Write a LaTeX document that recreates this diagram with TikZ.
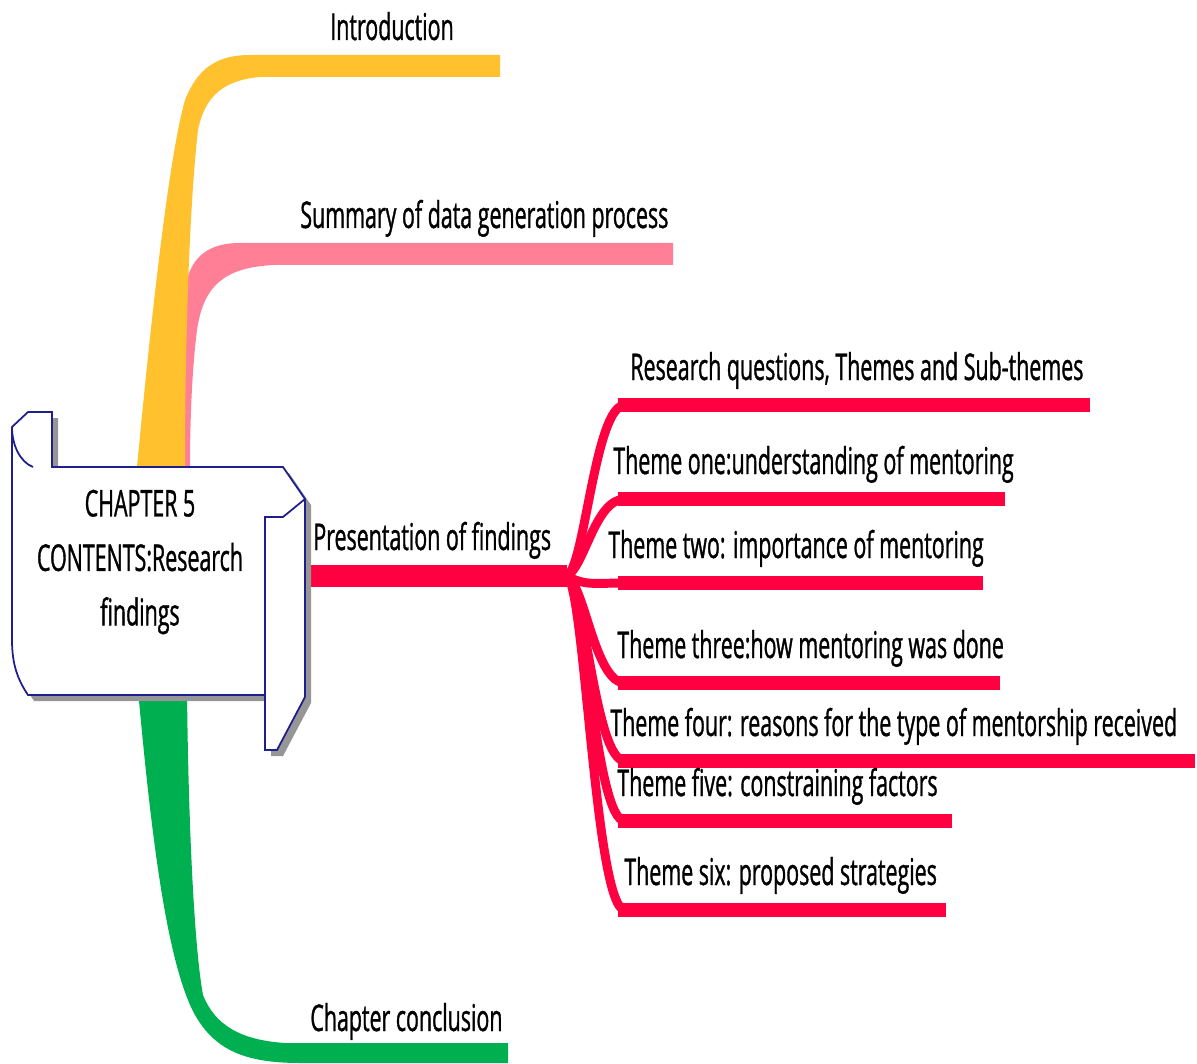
\documentclass[tikz,border=0pt]{standalone}
\usepackage{fontspec}
\newfontfamily\mapfont[FakeStretch=0.58,FakeBold=0.9]{Open Sans}
\definecolor{introyellow}{RGB}{255,193,46}
\definecolor{summpink}{RGB}{255,128,150}
\definecolor{findred}{RGB}{255,0,64}
\definecolor{conclgreen}{RGB}{0,176,80}
\definecolor{scrollnavy}{RGB}{30,30,140}
\definecolor{scrollshade}{RGB}{150,150,150}
\newcommand{\scrolloutline}{(28,412) -- (52,412) -- (52,467) -- (283,467) -- (305,499) -- (305,697) -- (277,750) -- (265,750) -- (265,695) -- (28,695) .. controls (18,680) and (12,665) .. (12,640) -- (12,427) -- cycle}

\begin{document}
\begin{tikzpicture}[x=0.02cm,y=-0.02cm,
  lbl/.style={anchor=base west,inner sep=0pt,font=\mapfont\fontsize{21}{25}\selectfont},
  twig/.style={draw=findred,line width=5.1pt,line cap=round},
  themebr/.style={draw=findred,line width=8.5pt,line cap=butt}]
\useasboundingbox (0,0) rectangle (1197,1064);
% main branches
\fill[summpink](183,467)--(184,300) .. controls (186,265) and (200,243) .. (240,243)--(673,243)--(673,265)--(275,265) .. controls (220,267) and (203,290) .. (197,330) .. controls (192,370) and (190,420) .. (190,467)--cycle;
\fill[introyellow](137,467) .. controls (150,330) and (168,160) .. (185,100) .. controls (197,70) and (215,55) .. (250,55)--(500,55)--(500,77)--(260,77) .. controls (225,80) and (205,95) .. (198,130) .. controls (190,200) and (185,330) .. (185,467)--cycle;
\fill[conclgreen](138,690) .. controls (150,820) and (165,960) .. (195,1015) .. controls (215,1050) and (245,1063) .. (300,1063)--(508,1063)--(508,1043)--(285,1043) .. controls (240,1040) and (215,1025) .. (203,995) .. controls (193,940) and (188,800) .. (187,690)--cycle;
\coordinate (trunk) at (290,576);
\coordinate (fork) at (567,576);
\draw[findred,line width=12.5pt](trunk)--(fork);
% themes
\foreach \n/\y/\e/\tx/\t in {rq/405/1090/630/{Research questions, Themes and Sub-themes},
  one/499/1005/613/{Theme one:understanding of mentoring},
  two/583/983/608/{Theme two: importance of mentoring},
  three/683/1000/617/{Theme three:how mentoring was done},
  four/761/1195/610/{Theme four: reasons for the type of mentorship received},
  five/821/952/617/{Theme five: constraining factors},
  six/910/946/624/{Theme six: proposed strategies}}{
  \pgfmathsetmacro\cy{576+10*sign(\y-576)}
  \draw[twig](fork) .. controls (585,\cy) and (595,\y) .. (625,\y);
  \draw[themebr](618,\y)--(\e,\y) coordinate (end-\n);
  \node[lbl] (\n) at (\tx,\y-25) {\t};
}
% scroll
\fill[scrollshade,shift={(6,6)}] \scrolloutline;
\filldraw[fill=white,draw=scrollnavy,line width=1pt] \scrolloutline;
\draw[scrollnavy,line width=1pt](12,427) .. controls (12,445) and (20,462) .. (33,467);
\draw[scrollnavy,line width=1pt](265,695)--(265,517)--(283,517)--(305,499);
\node[align=center,inner sep=0pt,font=\mapfont\fontsize{21}{31}\selectfont] (chap) at (140,562) {CHAPTER 5\\CONTENTS:Research\\findings};
% labels
\node[lbl] (intro) at (330,40) {Introduction};
\node[lbl] (summ) at (300,228) {Summary of data generation process};
\node[lbl] (pres) at (313,550) {Presentation of findings};
\node[lbl] (concl) at (310,1031) {Chapter conclusion};
\end{tikzpicture}
\end{document}
